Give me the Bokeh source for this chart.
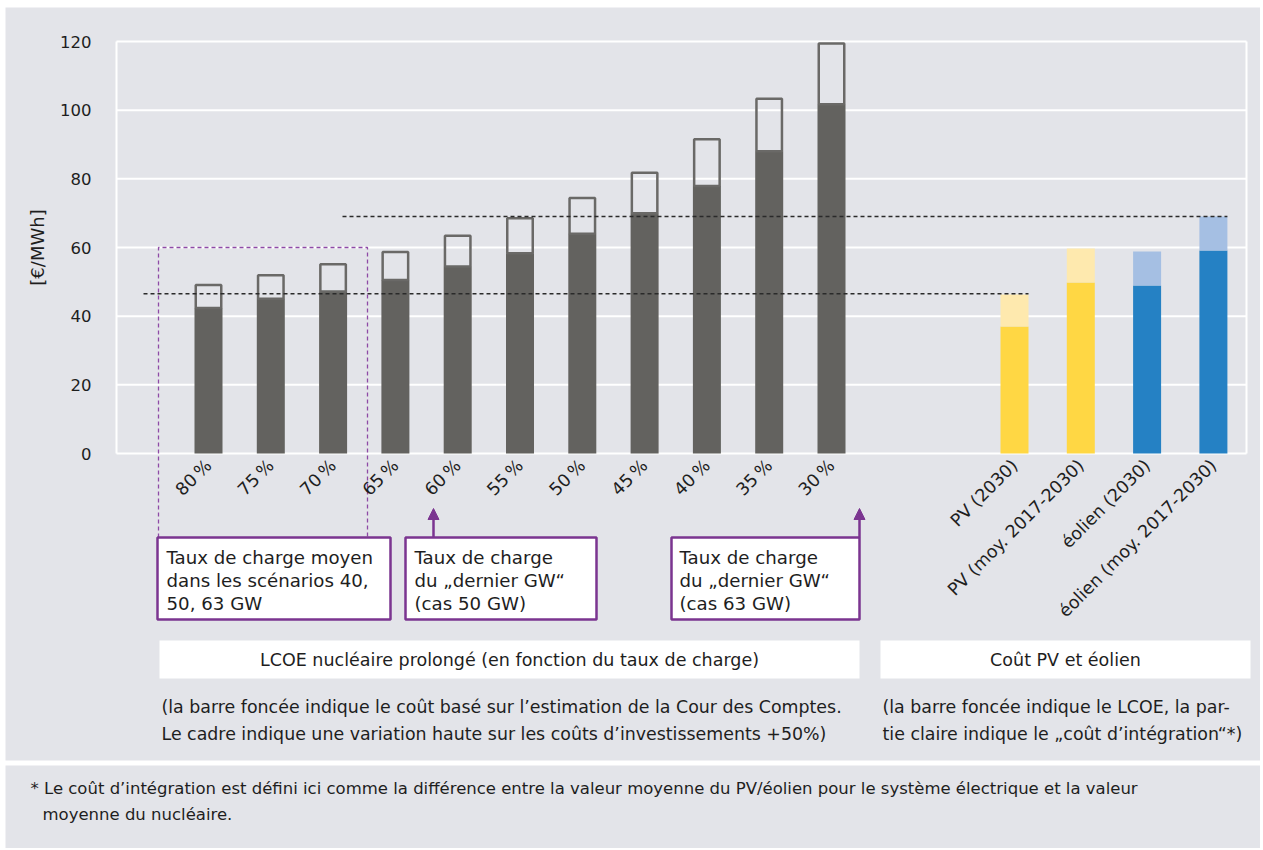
import math
from bokeh.plotting import figure
from bokeh.models import (Range1d, LinearAxis, FixedTicker, Arrow, NormalHead,
                          ColumnDataSource)
from bokeh.core.properties import value
from bokeh.embed import file_html
from bokeh.resources import INLINE

# ---------------- data ----------------
nuc_labels = ["80\u202f%", "75\u202f%", "70\u202f%", "65\u202f%", "60\u202f%", "55\u202f%",
              "50\u202f%", "45\u202f%", "40\u202f%", "35\u202f%", "30\u202f%"]
nuc_base = [42.4, 45.1, 47.2, 50.5, 54.5, 58.3, 64.0, 70.0, 77.9, 88.0, 101.7]
nuc_total = [49.1, 51.9, 55.1, 58.7, 63.4, 68.5, 74.4, 81.8, 91.5, 103.3, 119.4]

re_labels = ["PV (2030)", "PV (moy. 2017-2030)", "éolien (2030)", "éolien (moy. 2017-2030)"]
re_lcoe = [37.0, 49.8, 48.9, 59.1]
re_total = [46.3, 59.7, 58.8, 69.0]
re_dark = ["#ffd744", "#ffd744", "#2581c4", "#2581c4"]
re_light = ["#fee9ae", "#fee9ae", "#a5bfe3", "#a5bfe3"]

ref_levels = [46.5, 69.0]
y_ticks = [0, 20, 40, 60, 80, 100, 120]

# ---------------- layout (canvas pixels) ----------------
BG = "#e3e4e9"
DARK = "#63625f"
OUTLINE = "#6a6967"
PURPLE = "#7b3590"
TXT = "#1e1e1e"
FONT = "DejaVu Sans"

W, H = 1260, 848
FRAME_L, FRAME_R = 116, 1246
Y0_PX, Y120_PX = 453, 41
NUC_X0, NUC_STEP = 208, 62.3
RE_X0, RE_STEP = 1014, 66.3
BAR_PX = 28

ppu = (Y0_PX - Y120_PX) / 120.0


def X(px):
    return (px - NUC_X0) / NUC_STEP


def XR(px):
    return (px - RE_X0) / RE_STEP


def Y(py):
    return (Y0_PX - py) / ppu


p = figure(width=W, height=H, title=None,
           x_range=Range1d(X(0), X(W)), y_range=Range1d(Y(H), Y(0)),
           output_backend="svg", toolbar_location=None,
           x_axis_location=None, y_axis_location=None, min_border=0)
p.extra_x_ranges = {"re": Range1d(XR(0), XR(W))}
p.background_fill_color = "white"
p.border_fill_color = "white"
p.outline_line_color = None
p.xgrid.visible = False
p.ygrid.visible = False

# grey panels (chart area and footnote area)
p.quad(left=[X(5), X(5)], right=[X(W), X(W)], top=[Y(7), Y(765)], bottom=[Y(760), Y(H)],
       fill_color=BG, line_color=None)

# white grid lines and right frame line
p.segment(x0=[X(FRAME_L)] * len(y_ticks), x1=[X(FRAME_R)] * len(y_ticks),
          y0=y_ticks, y1=y_ticks, line_color="white", line_width=2)
p.segment(x0=[X(FRAME_R)], x1=[X(FRAME_R)], y0=[y_ticks[0]], y1=[y_ticks[-1]],
          line_color="white", line_width=2)

# y axis
yax = LinearAxis(fixed_location=X(FRAME_L), ticker=FixedTicker(ticks=y_ticks),
                 bounds=(y_ticks[0], y_ticks[-1]),
                 axis_line_color="white", axis_line_width=2,
                 major_tick_line_color=None, minor_tick_line_color=None,
                 major_tick_out=0, major_tick_in=0, major_label_standoff=25,
                 major_label_text_font=FONT, major_label_text_font_size="16.5px",
                 major_label_text_color=TXT)
p.add_layout(yax, "left")

# x axes (fixed at y = 0)
common = dict(fixed_location=0, major_label_orientation=math.pi / 4,
              axis_line_color=None, major_tick_line_color=None, minor_tick_line_color=None,
              major_tick_out=0, major_tick_in=0, major_label_standoff=9,
              major_label_text_font=FONT, major_label_text_font_size="17.5px",
              major_label_text_color=TXT)
xax = LinearAxis(ticker=FixedTicker(ticks=list(range(len(nuc_labels)))),
                 major_label_overrides={i: l for i, l in enumerate(nuc_labels)}, **common)
p.add_layout(xax, "below")
xax2 = LinearAxis(x_range_name="re", ticker=FixedTicker(ticks=list(range(len(re_labels)))),
                  major_label_overrides={i: l for i, l in enumerate(re_labels)}, **common)
p.add_layout(xax2, "below")

# nuclear bars
nsrc = ColumnDataSource(dict(x=list(range(len(nuc_labels))), base=nuc_base, total=nuc_total))
bw = BAR_PX / NUC_STEP
lw = 2.5
p.vbar(x="x", top="base", bottom=0, width=bw, source=nsrc,
       fill_color=DARK, line_color=None)
p.vbar(x="x", bottom="base", top="total", width=bw - lw / NUC_STEP, source=nsrc,
       fill_color=None, line_color=OUTLINE, line_width=lw)

# PV / wind bars
rsrc = ColumnDataSource(dict(x=list(range(len(re_labels))), lcoe=re_lcoe, total=re_total,
                             dark=re_dark, light=re_light))
rbw = BAR_PX / RE_STEP
p.vbar(x="x", top="lcoe", bottom=0, width=rbw, source=rsrc, x_range_name="re",
       fill_color="dark", line_color=None)
p.vbar(x="x", bottom="lcoe", top="total", width=rbw, source=rsrc, x_range_name="re",
       fill_color="light", line_color=None)

# dashed reference levels
ends = [X(RE_X0 + RE_STEP * 0 + BAR_PX / 2), X(RE_X0 + RE_STEP * 3 + BAR_PX / 2)]
p.segment(x0=[X(143), X(342)], x1=ends, y0=ref_levels, y1=ref_levels,
          line_color="#2a2a2a", line_width=1.5, line_dash="4 3")

# purple dashed frame around 80-70 %
p.line(x=[X(158), X(158), X(367), X(367)], y=[Y(537), 60, 60, Y(537)],
       line_color="#8e4aa6", line_width=1.3, line_dash="4 3")

# annotation boxes
p.quad(left=[X(157), X(405), X(671)], right=[X(390), X(596), X(859)],
       top=Y(537), bottom=Y(619), fill_color="white", line_color=PURPLE, line_width=2.5)

box_txt = ["Taux de charge moyen", "dans les scénarios 40,", "50, 63 GW",
           "Taux de charge", "du \u201edernier GW\u201c", "(cas 50 GW)",
           "Taux de charge", "du \u201edernier GW\u201c", "(cas 63 GW)"]
box_x = [X(166)] * 3 + [X(414)] * 3 + [X(679)] * 3
box_y = [Y(557), Y(580), Y(603)] * 3
p.text(x=box_x, y=box_y, text=box_txt, text_font=value(FONT), text_font_size="18.2px",
       text_color=TXT, text_align="left", text_baseline="middle")

for ax_px in (433, 859):
    p.add_layout(Arrow(end=NormalHead(size=11, fill_color=PURPLE, line_color=PURPLE),
                       x_start=X(ax_px), y_start=Y(537), x_end=X(ax_px), y_end=Y(508),
                       line_color=PURPLE, line_width=2.5))

# header boxes
p.quad(left=[X(159), X(880)], right=[X(859), X(1250)], top=Y(640), bottom=Y(678),
       fill_color="white", line_color=None)
p.text(x=[X(509), X(1065)], y=[Y(659), Y(659)],
       text=["LCOE nucléaire prolongé (en fonction du taux de charge)", "Coût PV et éolien"],
       text_font=value(FONT), text_font_size="17.5px", text_color=TXT,
       text_align="center", text_baseline="middle")

# explanations
p.text(x=[X(161), X(161), X(882), X(882)], y=[Y(706), Y(733), Y(706), Y(733)],
       text=["(la barre foncée indique le coût basé sur l\u2019estimation de la Cour des Comptes.",
             "Le cadre indique une variation haute sur les coûts d\u2019investissements +50%)",
             "(la barre foncée indique le LCOE, la par-",
             "tie claire indique le \u201eco\u00fbt d\u2019int\u00e9gration\u201c*)"],
       text_font=value(FONT), text_font_size="17.4px", text_color=TXT,
       text_align="left", text_baseline="middle")

# y axis title
p.text(x=[X(37)], y=[60], text=["[€/MWh]"], angle=math.pi / 2,
       text_font=value(FONT), text_font_size="18px", text_color=TXT,
       text_align="center", text_baseline="middle")

# footnote
p.text(x=[X(30), X(42)], y=[Y(788), Y(814)],
       text=["* Le coût d\u2019intégration est défini ici comme la différence entre la valeur moyenne du PV/éolien pour le système électrique et la valeur",
             "moyenne du nucléaire."],
       text_font=value(FONT), text_font_size="16.5px", text_color=TXT,
       text_align="left", text_baseline="middle")

open("out.html", "w").write(file_html(p, INLINE))
